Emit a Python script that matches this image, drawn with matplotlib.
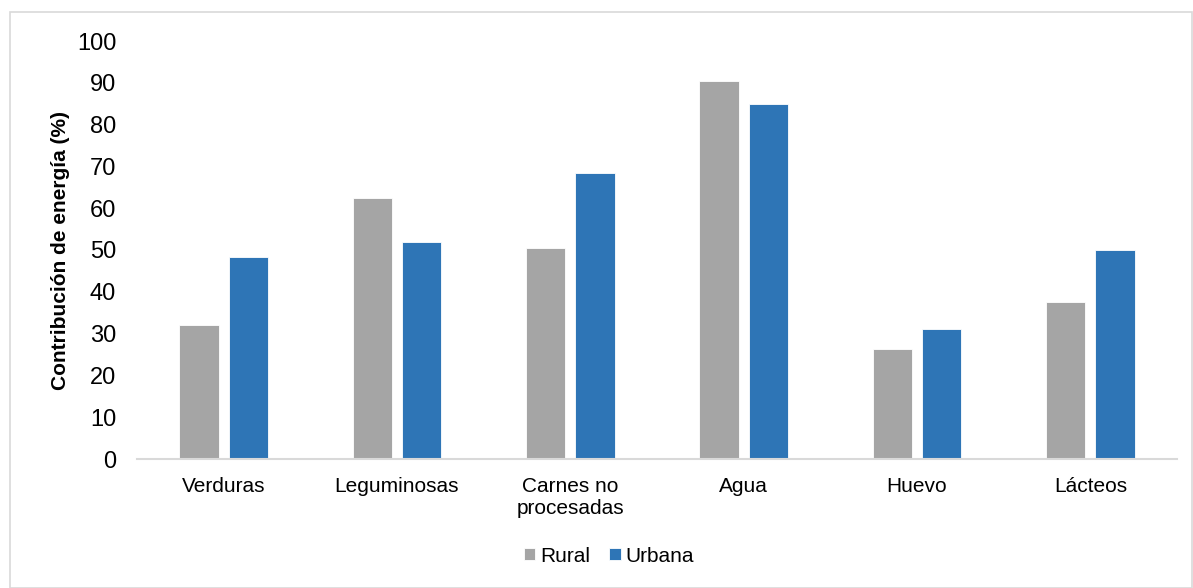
import matplotlib
matplotlib.use("Agg")
import matplotlib.pyplot as plt
import numpy as np
from matplotlib.patches import Rectangle

plt.rcParams['font.family'] = ['Liberation Sans', 'DejaVu Sans']

categories = ["Verduras", "Leguminosas", "Carnes no\nprocesadas", "Agua", "Huevo", "Lácteos"]
rural = [32.0, 62.5, 50.4, 90.5, 26.3, 37.5]
urbana = [48.4, 52.0, 68.5, 85.0, 31.0, 49.9]
series_names = ["Rural", "Urbana"]
yticks = list(range(0, 101, 10))

fig = plt.figure(figsize=(11.93, 5.88), dpi=100)
fig.patches.append(Rectangle((10/1193, 0), 1 - 10/1193 - 0.001, 1 - 12/588,
                             transform=fig.transFigure, fill=False,
                             edgecolor="#d9d9d9", linewidth=1.2))
ax = fig.add_axes([137/1193, (588-459)/588, (1177-137)/1193, (459-41)/588])

x = np.arange(len(categories))
w = 0.226
off = 0.142
ax.bar(x - off, rural, width=w, color="#a5a5a5", edgecolor="white", linewidth=0.6, label=series_names[0])
ax.bar(x + off, urbana, width=w, color="#2e75b6", edgecolor="white", linewidth=0.6, label=series_names[1])

ax.set_xlim(-0.5, len(categories) - 0.5)
ax.set_ylim(0, 100)
ax.set_yticks(yticks)
ax.set_yticklabels([str(t) for t in yticks], fontsize=17)
ax.set_xticks(x)
ax.set_xticklabels(categories, fontsize=15, linespacing=1.2)
ax.tick_params(axis='both', length=0, colors="#000000")
ax.tick_params(axis='y', pad=15)
ax.tick_params(axis='x', pad=13)
for s in ["top", "right", "left"]:
    ax.spines[s].set_visible(False)
ax.spines["bottom"].set_color("#d9d9d9")
ax.spines["bottom"].set_linewidth(1.5)
ax.set_ylabel("Contribución de energía (%)", fontsize=15, fontweight="bold", labelpad=5)

fig.legend(loc="center", bbox_to_anchor=(609/1193, 1 - 556/588), ncol=2, frameon=False,
           fontsize=15, handlelength=0.55, handleheight=0.55, handletextpad=0.25, columnspacing=0.9)

fig.savefig("out.png", dpi=100)
